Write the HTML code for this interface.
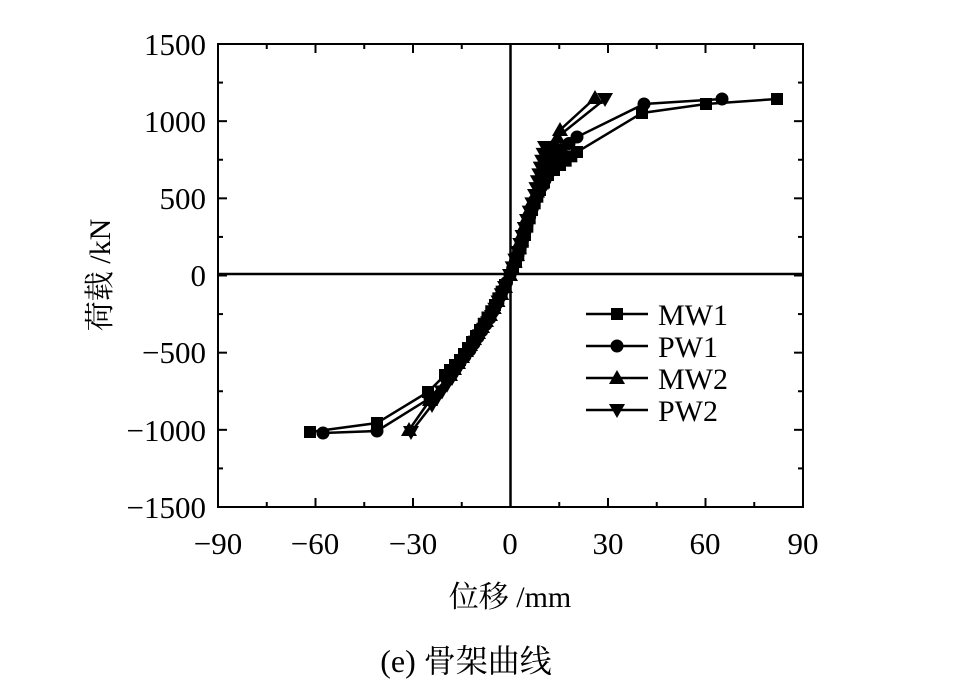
<!DOCTYPE html>
<html><head><meta charset="utf-8"><style>
html,body{margin:0;padding:0;background:#fff;width:970px;height:697px;overflow:hidden}
svg{display:block}
text{font-family:"Liberation Serif","Noto Serif CJK SC",serif;fill:#000}
</style></head><body>
<svg id="s" width="970" height="697" viewBox="0 0 970 697" xmlns="http://www.w3.org/2000/svg">
<rect x="218" y="44" width="585" height="463" fill="none" stroke="#000" stroke-width="2"/>
<line x1="510.5" y1="44" x2="510.5" y2="507" stroke="#000" stroke-width="2.5"/>
<line x1="218" y1="274" x2="803" y2="274" stroke="#000" stroke-width="2.5"/>
<g id="ticks" stroke="#000" stroke-width="2"></g>
<g font-size="31" text-anchor="end">
<text x="206" y="55">1500</text><text x="206" y="132">1000</text><text x="206" y="209">500</text>
<text x="206" y="286">0</text><text x="206" y="363">−500</text><text x="206" y="441">−1000</text><text x="206" y="518">−1500</text>
</g>
<g font-size="31" text-anchor="middle">
<text x="218" y="554">−90</text><text x="315" y="554">−60</text><text x="413" y="554">−30</text>
<text x="510" y="554">0</text><text x="608" y="554">30</text><text x="705" y="554">60</text><text x="803" y="554">90</text>
</g>
<text x="510" y="607" font-size="30" text-anchor="middle">位移 /mm</text>
<text transform="translate(110,275) rotate(-90)" font-size="30" text-anchor="middle">荷载 /kN</text>
<text x="466" y="672" font-size="32" text-anchor="middle">(e) 骨架曲线</text>
<g id="series"></g>
<g font-size="30">
<line x1="586" y1="314" x2="648" y2="314" stroke="#000" stroke-width="2.5"/><rect x="611" y="308" width="12" height="12"/><text x="658" y="325">MW1</text>
<line x1="586" y1="346" x2="648" y2="346" stroke="#000" stroke-width="2.5"/><circle cx="617" cy="346" r="6.5"/><text x="658" y="357">PW1</text>
<line x1="586" y1="378" x2="648" y2="378" stroke="#000" stroke-width="2.5"/><polygon points="617,370 625,384 609,384"/><text x="658" y="389">MW2</text>
<line x1="586" y1="410" x2="648" y2="410" stroke="#000" stroke-width="2.5"/><polygon points="609,404 625,404 617,418"/><text x="658" y="421">PW2</text>
</g>
</svg>
<script>
var NS="http://www.w3.org/2000/svg",T=document.getElementById("ticks"),S=document.getElementById("series");
function el(n,a,p){var e=document.createElementNS(NS,n);for(var k in a)e.setAttribute(k,a[k]);p.appendChild(e);return e}
for(var i=0;i<=12;i++){var x=218+i*585/12,l=i%2==0?9:5;el("line",{x1:x,y1:507,x2:x,y2:507-l},T);el("line",{x1:x,y1:44,x2:x,y2:44+l},T)}
for(var i=0;i<=12;i++){var y=44+i*463/12,l=i%2==0?9:5;el("line",{x1:218,y1:y,x2:218+l,y2:y},T);el("line",{x1:803,y1:y,x2:803-l,y2:y},T)}
var D={
sq:[[310,432],[377,423],[428,392],[445,375],[460,360],[480,330],[495,305],[505,285],[510,275],[516,262],[525,235],[532,210],[540,190],[548,175],[560,165],[577,152],[642,113],[706,104],[777,99]],
ci:[[323,433],[377,431],[430,398],[450,375],[470,350],[490,318],[503,290],[510,275],[518,255],[527,225],[535,200],[545,180],[561,150],[577,137],[644,104],[722,99]],
up:[[409,430],[430,400],[450,375],[470,345],[490,315],[505,287],[510,275],[517,255],[525,225],[533,200],[545,175],[560,130],[595,98]],
dn:[[411,432],[432,405],[452,378],[472,348],[492,316],[505,287],[510,275],[518,252],[527,220],[535,195],[545,147],[605,99]]};
function mk(t,x,y){if(t=="sq")el("rect",{x:x-6,y:y-6,width:12,height:12},S);else if(t=="ci")el("circle",{cx:x,cy:y,r:6.5},S);
else if(t=="up")el("polygon",{points:(x)+","+(y-8)+" "+(x+8)+","+(y+6)+" "+(x-8)+","+(y+6)},S);
else el("polygon",{points:(x-8)+","+(y-6)+" "+(x+8)+","+(y-6)+" "+x+","+(y+8)},S);}
for(var t in D){var p=D[t];el("polyline",{points:p.map(function(q){return q.join(",")}).join(" "),fill:"none",stroke:"#000","stroke-width":2.5},S);
for(var i=0;i<p.length;i++){mk(t,p[i][0],p[i][1]);if(i<p.length-1&&Math.abs(p[i][0]-510)<80&&Math.abs(p[i+1][0]-510)<80){
var dx=p[i+1][0]-p[i][0],dy=p[i+1][1]-p[i][1],L=Math.sqrt(dx*dx+dy*dy),n=Math.floor(L/7);for(var j=1;j<n;j++)mk(t,p[i][0]+dx*j/n,p[i][1]+dy*j/n);}}}
</script>
</body></html>
